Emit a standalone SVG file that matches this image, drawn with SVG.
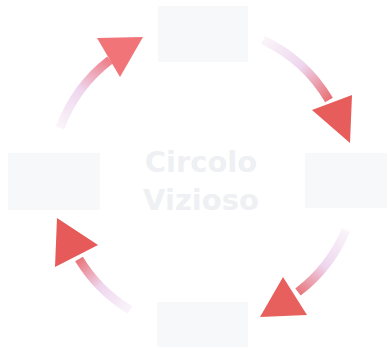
<svg xmlns="http://www.w3.org/2000/svg" width="389" height="349" viewBox="0 0 389 349">
<style>
.box{fill:#f7f8fa}
.shaft{fill:none;stroke-width:9;stroke-linecap:butt}
.head{stroke:none}
.title{font-family:"DejaVu Sans",Verdana,sans-serif;font-weight:bold;font-size:29px;fill:#eef0f3;text-anchor:middle}
</style>
<defs>
<linearGradient id="g1" gradientUnits="userSpaceOnUse" x1="60" y1="128" x2="108" y2="57"><stop offset="0" stop-color="#faf5fa"/><stop offset="0.5" stop-color="#eed6ee"/><stop offset="1" stop-color="#ee7a84"/></linearGradient>
<linearGradient id="g2" gradientUnits="userSpaceOnUse" x1="263" y1="40" x2="331" y2="102"><stop offset="0" stop-color="#faf5fa"/><stop offset="0.5" stop-color="#eed6ee"/><stop offset="1" stop-color="#e86a6e"/></linearGradient>
<linearGradient id="g3" gradientUnits="userSpaceOnUse" x1="346" y1="230" x2="295" y2="296"><stop offset="0" stop-color="#faf5fa"/><stop offset="0.5" stop-color="#eed6ee"/><stop offset="1" stop-color="#e86a6e"/></linearGradient>
<linearGradient id="g4" gradientUnits="userSpaceOnUse" x1="130" y1="310" x2="77" y2="256"><stop offset="0" stop-color="#faf5fa"/><stop offset="0.5" stop-color="#eed6ee"/><stop offset="1" stop-color="#e86a6e"/></linearGradient>
</defs>
<rect width="389" height="349" fill="#ffffff"/>
<g id="node-top"><rect class="box" x="158" y="6" width="90" height="56"/></g>
<g id="node-right"><rect class="box" x="305" y="153" width="82" height="55"/></g>
<g id="node-bottom"><rect class="box" x="157" y="302" width="91" height="45"/></g>
<g id="node-left"><rect class="box" x="8" y="153" width="92" height="57"/></g>
<g id="center"><text class="title" x="201" y="172">Circolo</text><text class="title" x="201" y="210">Vizioso</text></g>
<g id="connectors">
<path class="shaft" stroke="url(#g1)" d="M60,128 A152,152 0 0 1 110,60"/>
<polygon class="head" fill="#f07478" points="97,38 143,37 120,77"/>
<path class="shaft" stroke="url(#g2)" d="M263,40 A152,152 0 0 1 329,100"/>
<polygon class="head" fill="#e65d5c" points="312,110 352,95 350,143"/>
<path class="shaft" stroke="url(#g3)" d="M346,230 A152,152 0 0 1 298,292"/>
<polygon class="head" fill="#e8605e" points="283,277 307,315 260,317"/>
<path class="shaft" stroke="url(#g4)" d="M130,310 A152,152 0 0 1 79,259"/>
<polygon class="head" fill="#e65a5a" points="57,218 98,245 55,267"/>
</g>
</svg>
